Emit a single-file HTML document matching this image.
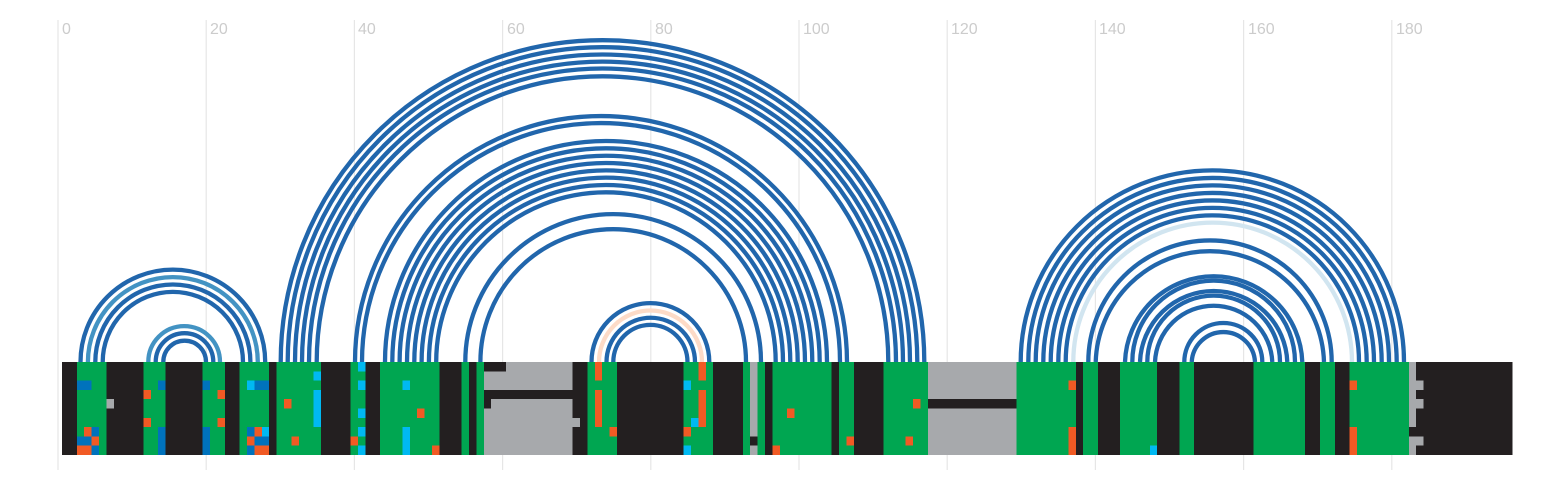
<!DOCTYPE html>
<html><head><meta charset="utf-8"><style>html,body{margin:0;padding:0;background:#fff}svg{display:block}</style></head>
<body>
<svg width="1568" height="480" xmlns="http://www.w3.org/2000/svg">
<g stroke="#e6e6e6" stroke-width="1.2">
<line x1="58" y1="20" x2="58" y2="470"/><line x1="206.2" y1="20" x2="206.2" y2="470"/><line x1="354.4" y1="20" x2="354.4" y2="470"/><line x1="502.6" y1="20" x2="502.6" y2="470"/><line x1="650.8" y1="20" x2="650.8" y2="470"/><line x1="799" y1="20" x2="799" y2="470"/><line x1="947.2" y1="20" x2="947.2" y2="470"/><line x1="1095.4" y1="20" x2="1095.4" y2="470"/><line x1="1243.6" y1="20" x2="1243.6" y2="470"/><line x1="1391.8" y1="20" x2="1391.8" y2="470"/>
</g>
<g font-family="Liberation Sans, sans-serif" font-size="16" fill="#cccccc">
<text x="62" y="34">0</text><text x="210" y="34">20</text><text x="358" y="34">40</text><text x="507" y="34">60</text><text x="655" y="34">80</text><text x="803" y="34">100</text><text x="951" y="34">120</text><text x="1099" y="34">140</text><text x="1248" y="34">160</text><text x="1396" y="34">180</text>
</g>
<g fill="none" stroke-width="4.3" stroke="#2166ac">
<path d="M80.5 362A92.35 92.35 0 0 1 265.2 362"/>
<path d="M87.9 362A84.95 84.95 0 0 1 257.8 362" stroke="#4393c3"/>
<path d="M95.3 362A77.55 77.55 0 0 1 250.4 362"/>
<path d="M102.7 362A70.15 70.15 0 0 1 243 362"/>
<path d="M148.3 362A35.8 35.8 0 0 1 220 362" stroke="#4393c3"/>
<path d="M155.7 362A28.8 28.8 0 0 1 213.3 362"/>
<path d="M163.3 362A21.3 21.3 0 0 1 206 362"/>
<path d="M280.7 362A321.8 321.8 0 0 1 924.3 362"/>
<path d="M287.7 362A314.8 314.8 0 0 1 917.3 362"/>
<path d="M295 362A307.5 307.5 0 0 1 910 362"/>
<path d="M302 362A300.5 300.5 0 0 1 903 362"/>
<path d="M309 362A293.5 293.5 0 0 1 896 362"/>
<path d="M316.7 362A285.8 285.8 0 0 1 888.3 362"/>
<path d="M355 362A246 246 0 0 1 847 362"/>
<path d="M362 362A239 239 0 0 1 840 362"/>
<path d="M385 362A221 221 0 0 1 827 362"/>
<path d="M392.3 362A213.7 213.7 0 0 1 819.7 362"/>
<path d="M399.6 362A206.3 206.3 0 0 1 812.3 362"/>
<path d="M407 362A199 199 0 0 1 805 362"/>
<path d="M414.3 362A191.7 191.7 0 0 1 797.7 362"/>
<path d="M421.6 362A184.3 184.3 0 0 1 790.3 362"/>
<path d="M428.9 362A177 177 0 0 1 783 362"/>
<path d="M436.2 362A169.7 169.7 0 0 1 775.7 362"/>
<path d="M465.3 362A147.8 147.8 0 0 1 761 362"/>
<path d="M480.4 362A132.8 132.8 0 0 1 746 362"/>
<path d="M591.5 362A58.9 58.9 0 0 1 709.3 362"/>
<path d="M599 362A51.5 51.5 0 0 1 702 362" stroke="#fddbc7"/>
<path d="M606.5 362A44.2 44.2 0 0 1 695 362"/>
<path d="M613.3 362A37.1 37.1 0 0 1 687.5 362"/>
<path d="M1020.7 362A191.6 191.6 0 0 1 1404 362"/>
<path d="M1028.3 362A184.2 184.2 0 0 1 1396.7 362"/>
<path d="M1035.7 362A176.6 176.6 0 0 1 1389 362"/>
<path d="M1043.3 362A169.2 169.2 0 0 1 1381.7 362"/>
<path d="M1050.7 362A161.6 161.6 0 0 1 1374 362"/>
<path d="M1058.3 362A154.2 154.2 0 0 1 1366.7 362"/>
<path d="M1065.7 362A146.6 146.6 0 0 1 1359 362"/>
<path d="M1073.3 362A139.3 139.3 0 0 1 1352 362" stroke="#d1e5f0"/>
<path d="M1088.3 362A121.7 121.7 0 0 1 1331.7 362"/>
<path d="M1095.7 362A114.2 114.2 0 0 1 1324 362"/>
<path d="M1125 362A88.7 88.7 0 0 1 1302.3 362"/>
<path d="M1132.3 362A81.3 81.3 0 0 1 1295 362"/>
<path d="M1140 362A73.7 73.7 0 0 1 1287.3 362"/>
<path d="M1147.3 362A66.3 66.3 0 0 1 1280 362"/>
<path d="M1155 362A58.7 58.7 0 0 1 1272.3 362"/>
<path d="M1184.3 362A39 39 0 0 1 1262.3 362"/>
<path d="M1191.7 362A31.7 31.7 0 0 1 1255 362"/>
</g>
<g transform="translate(62,362) scale(7.4,9.3)" shape-rendering="crispEdges">
<rect x="0" y="0" width="196" height="10" fill="#231f20"/>
<g fill="#00a651">
<rect x="2" y="0" width="4" height="10"/><rect x="11" y="0" width="3" height="10"/><rect x="19" y="0" width="3" height="10"/><rect x="24" y="0" width="4" height="10"/><rect x="29" y="0" width="6" height="10"/><rect x="39" y="0" width="2" height="10"/><rect x="43" y="0" width="8" height="10"/><rect x="54" y="0" width="1" height="10"/><rect x="56" y="0" width="1" height="10"/><rect x="71" y="0" width="4" height="10"/><rect x="84" y="0" width="4" height="10"/><rect x="92" y="0" width="1" height="10"/><rect x="94" y="0" width="1" height="10"/><rect x="96" y="0" width="8" height="10"/><rect x="105" y="0" width="2" height="10"/><rect x="111" y="0" width="6" height="10"/><rect x="129" y="0" width="8" height="10"/><rect x="138" y="0" width="2" height="10"/><rect x="143" y="0" width="5" height="10"/><rect x="151" y="0" width="2" height="10"/><rect x="161" y="0" width="7" height="10"/><rect x="170" y="0" width="2" height="10"/><rect x="174" y="0" width="8" height="10"/>
</g>
<g fill="#a7a9ac">
<rect x="6" y="4" width="1" height="1"/>
<rect x="57" y="0" width="12" height="10"/><rect x="69" y="6" width="1" height="1"/>
<rect x="93" y="0" width="1" height="10"/>
<rect x="117" y="0" width="12" height="10"/>
<rect x="182" y="0" width="1" height="10"/><rect x="183" y="2" width="1" height="1"/><rect x="183" y="4" width="1" height="1"/><rect x="183" y="8" width="1" height="1"/>
</g>
<g fill="#231f20">
<rect x="57" y="0" width="3" height="1"/><rect x="57" y="3" width="12" height="1"/><rect x="57" y="4" width="1" height="1"/>
<rect x="93" y="8" width="1" height="1"/>
<rect x="117" y="4" width="12" height="1"/>
<rect x="182" y="7" width="1" height="1"/>
</g>
<g fill="#0072bc">
<rect x="2" y="2" width="2" height="1"/><rect x="2" y="8" width="2" height="1"/><rect x="4" y="7" width="1" height="1"/><rect x="4" y="9" width="1" height="1"/>
<rect x="13" y="2" width="1" height="1"/><rect x="13" y="7" width="1" height="3"/>
<rect x="19" y="2" width="1" height="1"/><rect x="19" y="7" width="1" height="3"/>
<rect x="26" y="2" width="2" height="1"/><rect x="25" y="7" width="1" height="1"/><rect x="26" y="8" width="2" height="1"/><rect x="25" y="9" width="1" height="1"/>
</g>
<g fill="#f15a24">
<rect x="3" y="7" width="1" height="1"/><rect x="2" y="9" width="2" height="1"/><rect x="4" y="8" width="1" height="1"/>
<rect x="11" y="3" width="1" height="1"/><rect x="11" y="6" width="1" height="1"/>
<rect x="21" y="3" width="1" height="1"/><rect x="21" y="6" width="1" height="1"/>
<rect x="26" y="7" width="1" height="1"/><rect x="25" y="8" width="1" height="1"/><rect x="26" y="9" width="2" height="1"/>
<rect x="30" y="4" width="1" height="1"/><rect x="31" y="8" width="1" height="1"/><rect x="39" y="8" width="1" height="1"/>
<rect x="48" y="5" width="1" height="1"/><rect x="50" y="9" width="1" height="1"/>
<rect x="72" y="0" width="1" height="2"/><rect x="72" y="3" width="1" height="4"/><rect x="74" y="7" width="1" height="1"/>
<rect x="84" y="7" width="1" height="1"/><rect x="86" y="0" width="1" height="2"/><rect x="86" y="3" width="1" height="4"/>
<rect x="96" y="9" width="1" height="1"/><rect x="98" y="5" width="1" height="1"/><rect x="106" y="8" width="1" height="1"/>
<rect x="115" y="4" width="1" height="1"/><rect x="114" y="8" width="1" height="1"/>
<rect x="136" y="2" width="1" height="1"/><rect x="136" y="7" width="1" height="3"/>
<rect x="174" y="2" width="1" height="1"/><rect x="174" y="7" width="1" height="3"/>
</g>
<g fill="#00b9f2">
<rect x="25" y="2" width="1" height="1"/><rect x="27" y="7" width="1" height="1"/>
<rect x="34" y="1" width="1" height="1"/><rect x="34" y="3" width="1" height="4"/>
<rect x="40" y="0" width="1" height="1"/><rect x="40" y="2" width="1" height="1"/><rect x="40" y="5" width="1" height="1"/><rect x="40" y="7" width="1" height="1"/><rect x="40" y="9" width="1" height="1"/>
<rect x="46" y="2" width="1" height="1"/><rect x="46" y="7" width="1" height="3"/>
<rect x="84" y="2" width="1" height="1"/><rect x="84" y="9" width="1" height="1"/><rect x="85" y="6" width="1" height="1"/>
<rect x="147" y="9" width="1" height="1"/>
</g>
</g>
</svg>
</body></html>
